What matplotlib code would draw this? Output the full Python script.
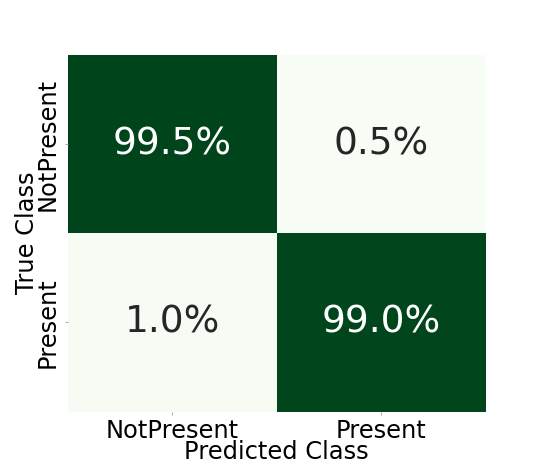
import numpy as np
import matplotlib
matplotlib.use("Agg")
import matplotlib.pyplot as plt
import seaborn as sns

# class names and row-normalised confusion matrix (percent)
class_names = ["NotPresent", "Present"]
row_notpresent = [99.5, 0.5]
row_present = [1.0, 99.0]

cm = np.array([row_notpresent, row_present])
labels = np.array([[f"{v:.1f}%" for v in row] for row in cm])

fig = plt.figure(figsize=(5.4, 4.63), dpi=100)
ax = fig.add_axes([67.5 / 540, 1 - 411.5 / 463, 418.5 / 540, 356.5 / 463])

sns.heatmap(cm, annot=labels, fmt="", cmap="Greens", cbar=False,
            xticklabels=class_names, yticklabels=class_names,
            annot_kws={"fontsize": 27}, ax=ax)

ax.set_xlabel("Predicted Class", fontsize=17.4, labelpad=-2)
ax.set_ylabel("True Class", fontsize=17.4, labelpad=-2)
ax.tick_params(axis="both", labelsize=17.4, length=2, width=0.6, color="#999999")
plt.setp(ax.get_yticklabels(), rotation=90, va="center")
plt.setp(ax.get_xticklabels(), rotation=0)

fig.savefig("out.png", dpi=100)
